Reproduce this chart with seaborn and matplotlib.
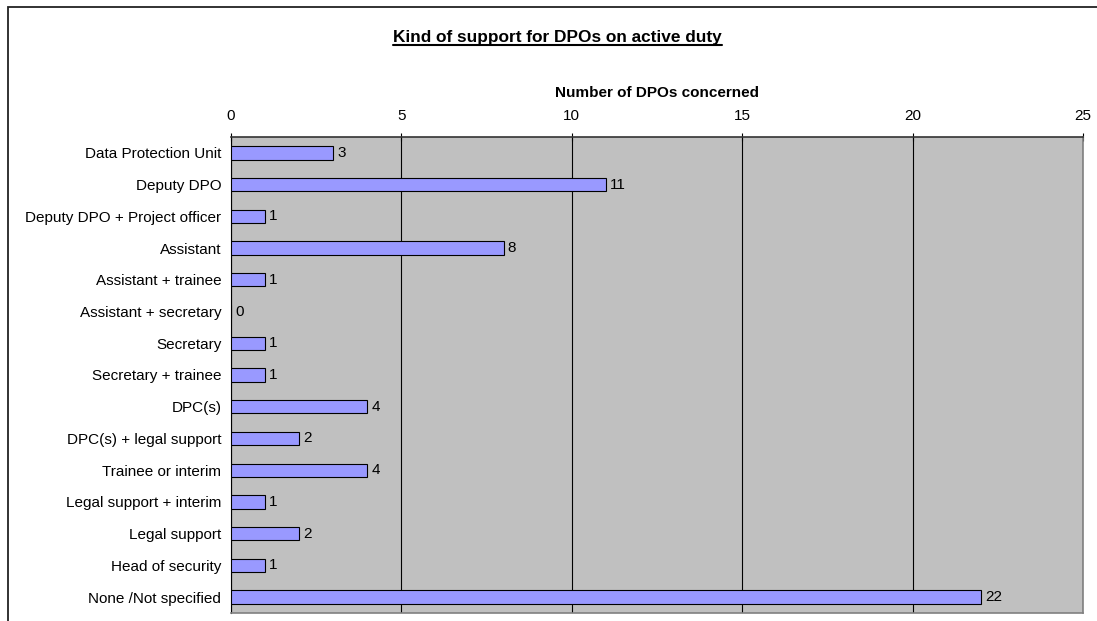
import numpy as np
import pandas as pd
from matplotlib import pyplot as plt
from matplotlib.patches import Rectangle
from matplotlib.lines import Line2D
import seaborn as sns

categories = ['Data Protection Unit', 'Deputy DPO', 'Deputy DPO + Project officer',
              'Assistant', 'Assistant + trainee', 'Assistant + secretary', 'Secretary',
              'Secretary + trainee', 'DPC(s)', 'DPC(s) + legal support',
              'Trainee or interim', 'Legal support + interim', 'Legal support',
              'Head of security', 'None /Not specified']
counts = [3, 11, 1, 8, 1, 0, 1, 1, 4, 2, 4, 1, 2, 1, 22]
xticks = [0, 5, 10, 15, 20, 25]

data = pd.DataFrame({'kind': categories, 'n': counts})

sns.set_style("white")
plt.rcParams['font.family'] = ['Liberation Sans', 'DejaVu Sans']
for key in ['text.color', 'axes.labelcolor', 'xtick.color', 'ytick.color']:
    plt.rcParams[key] = 'black'

fig = plt.figure(figsize=(10.97, 6.21), dpi=100)
ax = fig.add_axes([0.2106, 0.0129, 0.7766, 0.7665])
ax.set_facecolor('#C0C0C0')

sns.barplot(data=data, x='n', y='kind', orient='h', color='#9999FF',
            saturation=1, width=0.42, edgecolor='black', linewidth=0.8, ax=ax, zorder=3)

for i, v in enumerate(counts):
    ax.annotate(str(v), (v, i), xytext=(3, 0), textcoords='offset points',
                va='center', ha='left', fontsize=11, zorder=4)

ax.set_xlim(0, 25)
ax.set_ylim(len(categories) - 0.5, -0.5)
ax.xaxis.tick_top()
ax.xaxis.set_label_position('top')
ax.set_xticks(xticks)
ax.set_xticklabels([str(t) for t in xticks], fontsize=11)
ax.tick_params(axis='x', direction='inout', length=6, width=0.8, pad=7)
ax.set_xlabel('Number of DPOs concerned', fontsize=11, fontweight='bold', labelpad=9)
ax.set_ylabel('')
ax.grid(axis='x', color='black', linewidth=0.8, zorder=1)
ax.set_axisbelow(True)

ax.set_yticks(range(len(categories)))
ax.set_yticklabels(categories, fontsize=11)
ax.tick_params(axis='y', which='major', length=0, pad=7)
ax.set_yticks(np.arange(-0.5, len(categories), 1), minor=True)
ax.tick_params(axis='y', which='minor', direction='out', length=5, width=0.8)

for side in ['right', 'bottom']:
    ax.spines[side].set_color('#808080')
    ax.spines[side].set_linewidth(1.2)
ax.spines['top'].set_color('#333333')
ax.spines['top'].set_linewidth(1.2)
ax.spines['left'].set_color('black')
ax.spines['left'].set_linewidth(0.8)

title = fig.text(0.508, 0.940, 'Kind of support for DPOs on active duty',
                 ha='center', va='center', fontsize=12.4, fontweight='bold')

# outer chart frame (only left and top edges are inside the picture)
fig.add_artist(Rectangle((8 / 1097, -0.05), 1.1, 1 - 7 / 621 + 0.05,
                         transform=fig.transFigure, fill=False,
                         edgecolor='#222222', linewidth=1.3))

# underline the title
fig.canvas.draw()
bb = title.get_window_extent().transformed(fig.transFigure.inverted())
fig.add_artist(Line2D([bb.x0, bb.x1], [bb.y0 - 0.001, bb.y0 - 0.001],
                      transform=fig.transFigure, color='black', linewidth=1.5))

plt.savefig('out.png', dpi=100)
